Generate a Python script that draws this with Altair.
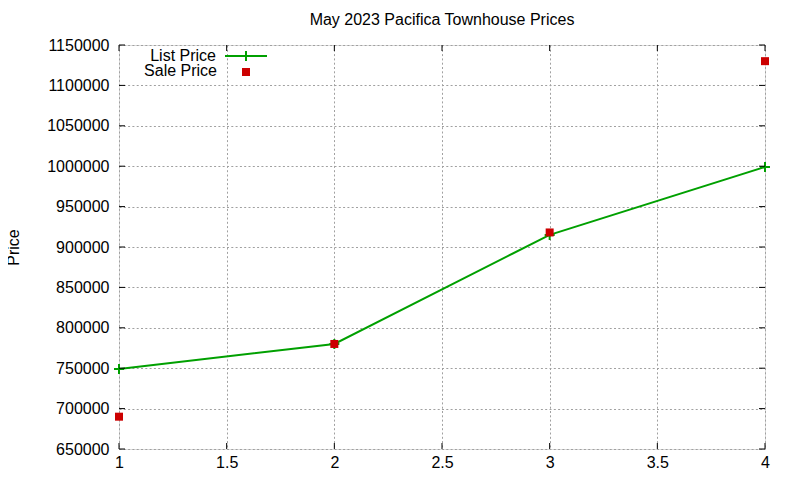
import altair as alt
import pandas as pd

x_vals = [1, 2, 3, 4]
list_price = [749000, 780000, 915000, 999000]
sale_price = [690000, 780000, 918000, 1130000]
y_ticks = [650000, 700000, 750000, 800000, 850000, 900000, 950000, 1000000, 1050000, 1100000, 1150000]
x_ticks = [1, 1.5, 2, 2.5, 3, 3.5, 4]
legend_labels = ["List Price", "Sale Price"]
title_text = "May 2023 Pacifica Townhouse Prices"
y_title = "Price"

W, H = 646, 404
FONT = "Liberation Sans"
FS = 16
GREEN = "#00a000"
RED = "#cc0000"

df = pd.DataFrame({"x": x_vals, "list": list_price, "sale": sale_price})
yt = pd.DataFrame({"v": y_ticks})
xt = pd.DataFrame({"v": x_ticks})

xs = alt.Scale(domain=[1, 4], nice=False, zero=False)
ys = alt.Scale(domain=[650000, 1150000], nice=False, zero=False)

grid_common = dict(gridColor="#a0a0a0", gridDash=[2, 2.3], gridWidth=1,
                   tickSize=0, domain=False, labelFont=FONT, labelFontSize=FS,
                   labelColor="black")

x_enc = alt.X("x:Q", scale=xs, axis=alt.Axis(values=x_ticks, format="~g", title=None,
                                             labelPadding=5, labelFlush=False, **grid_common))
y_enc = alt.Y("list:Q", scale=ys, axis=alt.Axis(values=y_ticks, format="d", title=y_title,
                                                labelPadding=10, titleFont=FONT, titleFontSize=FS,
                                                titleFontWeight="normal", titleX=-106, titleY=H / 2,
                                                titleAngle=270, titleAlign="center",
                                                titleBaseline="middle", **grid_common))

line = alt.Chart(df).mark_line(color=GREEN, strokeWidth=2).encode(x=x_enc, y=y_enc)
plus = alt.Chart(df).mark_point(shape="M-1,0L1,0M0,-1L0,1", size=100, filled=False,
                                color=GREEN, strokeWidth=2, opacity=1).encode(
    x=alt.X("x:Q", scale=xs), y=alt.Y("list:Q", scale=ys))
sale = alt.Chart(df).mark_square(size=64, color=RED, opacity=1).encode(
    x=alt.X("x:Q", scale=xs), y=alt.Y("sale:Q", scale=ys))

tk = 6
yl = alt.Chart(yt).mark_rule(color="black").encode(
    y=alt.Y("v:Q", scale=ys), x=alt.value(0), x2=alt.value(tk))
yr = alt.Chart(yt).mark_rule(color="black").encode(
    y=alt.Y("v:Q", scale=ys), x=alt.value(W - tk), x2=alt.value(W))
xb = alt.Chart(xt).mark_rule(color="black").encode(
    x=alt.X("v:Q", scale=xs), y=alt.value(H - tk), y2=alt.value(H))
xtp = alt.Chart(xt).mark_rule(color="black").encode(
    x=alt.X("v:Q", scale=xs), y=alt.value(0), y2=alt.value(tk))

# manual legend (gnuplot style: right-aligned text then sample)
leg1_text = alt.Chart(pd.DataFrame({"label": [legend_labels[0]]})).mark_text(
    align="right", baseline="alphabetic", font=FONT, fontSize=FS, color="black").encode(
    text="label:N", x=alt.value(97), y=alt.value(16))
leg2_text = alt.Chart(pd.DataFrame({"label": [legend_labels[1]]})).mark_text(
    align="right", baseline="alphabetic", font=FONT, fontSize=FS, color="black").encode(
    text="label:N", x=alt.value(98), y=alt.value(31))
leg1_line = alt.Chart(pd.DataFrame({"label": [legend_labels[0]]})).mark_rule(
    color=GREEN, strokeWidth=2).encode(x=alt.value(106), x2=alt.value(148), y=alt.value(11))
leg1_plus = alt.Chart(pd.DataFrame({"label": [legend_labels[0]]})).mark_point(
    shape="M-1,0L1,0M0,-1L0,1", size=100, filled=False, color=GREEN, strokeWidth=2,
    opacity=1).encode(x=alt.value(127), y=alt.value(11))
leg2_sq = alt.Chart(pd.DataFrame({"label": [legend_labels[1]]})).mark_square(
    size=64, color=RED, opacity=1).encode(x=alt.value(127), y=alt.value(27))

chart = alt.layer(line, plus, sale, yl, yr, xb, xtp,
                  leg1_text, leg2_text, leg1_line, leg1_plus, leg2_sq).properties(
    width=W, height=H,
    title=alt.TitleParams(title_text, font=FONT, fontSize=FS, fontWeight="normal",
                          color="black", anchor="middle", offset=9),
    autosize=alt.AutoSizeParams(type="none"),
    padding={"left": 111, "top": 37, "right": 27, "bottom": 23},
).configure_view(stroke="black", strokeWidth=1).configure(background="white")

chart.save("out.html", embed_options={"renderer": "svg", "actions": False})
